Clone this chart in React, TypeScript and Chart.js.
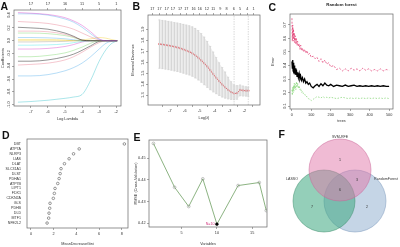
import React, { useEffect, useRef } from "react";
import { Chart, registerables } from "chart.js";

Chart.register(...registerables);

const FONT = "'Liberation Sans', Arial, Helvetica, sans-serif";
const TICK = 3.8;
const INK = "#333333";
const AXIS = "#555555";

// ---------- Panel A: LASSO coefficient paths ----------
const lassoLogLambda = [-7.76, -7, -6, -5, -4.5, -4, -3.5, -3, -2.6, -2.3, -1.94];
const lassoCoefPaths = [
  [0.44, 0.43, 0.41, 0.36, 0.31, 0.24, 0.14, 0.03, 0, 0, 0],
  [0.42, 0.42, 0.4, 0.34, 0.29, 0.21, 0.11, 0.02, 0, 0, 0],
  [0.3, 0.29, 0.27, 0.22, 0.18, 0.12, 0.06, 0.01, 0, 0, 0],
  [0.21, 0.2, 0.18, 0.12, 0.07, 0.01, 0, 0, 0, 0, 0],
  [0.15, 0.15, 0.14, 0.1, 0.06, 0.01, 0, 0, 0, 0, 0],
  [0.12, 0.12, 0.11, 0.08, 0.05, 0.01, 0, 0, 0, 0, 0],
  [0.05, 0.05, 0.045, 0.03, 0.015, 0, 0, 0, 0, 0, 0],
  [0.02, 0.02, 0.02, 0.01, 0, 0, 0, 0, 0, 0, 0],
  [-0.02, -0.02, -0.015, -0.01, 0, 0, 0, 0, 0, 0, 0],
  [-0.07, -0.07, -0.065, -0.05, -0.03, -0.01, 0, 0, 0, 0, 0],
  [-0.13, -0.13, -0.12, -0.09, -0.06, -0.02, 0, 0, 0, 0, 0],
  [-0.25, -0.25, -0.23, -0.19, -0.15, -0.1, -0.04, 0, 0, 0, 0],
  [-0.32, -0.32, -0.3, -0.25, -0.21, -0.15, -0.08, -0.01, 0, 0, 0],
  [-0.38, -0.37, -0.35, -0.3, -0.25, -0.18, -0.1, -0.03, 0, 0, 0],
  [-0.55, -0.55, -0.53, -0.47, -0.42, -0.35, -0.25, -0.13, -0.04, -0.01, 0],
  [-0.96, -0.95, -0.93, -0.9, -0.88, -0.84, -0.62, -0.32, -0.14, -0.05, 0],
  [0, 0, 0, 0, 0, 0.01, 0.03, 0.05, 0.04, 0.02, 0],
];
const lassoColors = [
  "rgba(205,11,188,0.55)", "rgba(34,151,230,0.55)", "rgba(223,83,107,0.55)", "rgba(0,0,0,0.7)",
  "rgba(223,83,107,0.55)", "rgba(97,208,79,0.6)", "rgba(34,151,230,0.55)", "rgba(245,199,16,0.6)",
  "rgba(158,158,158,0.7)", "rgba(40,226,229,0.6)", "rgba(205,11,188,0.55)", "rgba(97,208,79,0.6)",
  "rgba(0,0,0,0.7)", "rgba(223,83,107,0.55)", "rgba(34,151,230,0.55)", "rgba(40,190,200,0.65)",
  "rgba(245,199,16,0.6)",
];
const lassoXTicks = [-7, -6, -5, -4, -3, -2];
const lassoTopDf = ["17", "17", "16", "11", "5", "1"];
const lassoYTicks = [0.4, 0.2, 0, -0.2, -0.4, -0.6, -0.8, -1.0];

// ---------- Panel B: cross-validated binomial deviance ----------
const cvLogLambda = [-7.7, -7.5, -7.3, -7.1, -6.9, -6.7, -6.5, -6.3, -6.1, -5.9, -5.7, -5.5, -5.3, -5.1, -4.9, -4.7, -4.5, -4.3, -4.1, -3.9, -3.7, -3.5, -3.3, -3.1, -2.9, -2.7, -2.5, -2.3, -2.1, -1.9, -1.75];
const cvMean = [1.765, 1.761, 1.757, 1.752, 1.747, 1.741, 1.734, 1.726, 1.716, 1.706, 1.695, 1.681, 1.663, 1.641, 1.616, 1.59, 1.561, 1.527, 1.492, 1.458, 1.427, 1.397, 1.371, 1.347, 1.328, 1.314, 1.318, 1.347, 1.342, 1.34, 1.34];
const cvUpper = [1.985, 1.981, 1.977, 1.972, 1.967, 1.962, 1.957, 1.951, 1.945, 1.939, 1.932, 1.922, 1.908, 1.888, 1.86, 1.828, 1.789, 1.744, 1.692, 1.642, 1.594, 1.551, 1.51, 1.463, 1.422, 1.392, 1.386, 1.392, 1.382, 1.376, 1.372];
const cvLower = [1.545, 1.541, 1.537, 1.532, 1.527, 1.521, 1.515, 1.508, 1.5, 1.492, 1.484, 1.472, 1.457, 1.439, 1.418, 1.395, 1.371, 1.349, 1.33, 1.313, 1.297, 1.283, 1.273, 1.266, 1.261, 1.258, 1.262, 1.294, 1.292, 1.291, 1.29];
const cvTopTickPos = [-7.6, -7.2, -6.8, -6.45, -6.05, -5.7, -5.3, -4.95, -4.55, -4.2, -3.8, -3.45, -3.05, -2.7, -2.3, -1.95];
const cvTopDf = ["17", "17", "17", "17", "17", "17", "16", "16", "12", "11", "9", "8", "6", "5", "4", "1"];
const cvLambdaLines = [-2.7, -1.75];
const cvXTicks = [-7, -6, -5, -4, -3, -2];
const cvYTicks = [1.3, 1.4, 1.5, 1.6, 1.7, 1.8, 1.9];

// ---------- Panel C: random forest error vs trees ----------
const rfTrees = [1, 3, 5, 7, 9, 11, 13, 15, 18, 21, 24, 27, 30, 34, 38, 42, 46, 50, 55, 60, 66, 72, 78, 85, 92, 100, 110, 120, 130, 140, 150, 160, 170, 180, 190, 200, 215, 230, 245, 260, 275, 290, 305, 320, 335, 350, 365, 380, 395, 410, 425, 440, 455, 470, 485, 500];
const rfOOB = [0.43, 0.38, 0.44, 0.36, 0.42, 0.35, 0.4, 0.34, 0.38, 0.33, 0.37, 0.32, 0.35, 0.31, 0.34, 0.3, 0.32, 0.29, 0.31, 0.28, 0.3, 0.27, 0.28, 0.26, 0.27, 0.245, 0.235, 0.25, 0.26, 0.245, 0.265, 0.25, 0.27, 0.255, 0.25, 0.26, 0.245, 0.255, 0.25, 0.245, 0.255, 0.245, 0.25, 0.255, 0.245, 0.25, 0.245, 0.25, 0.245, 0.25, 0.245, 0.25, 0.245, 0.25, 0.245, 0.245];
const rfClass1 = [0.75, 0.58, 0.7, 0.6, 0.67, 0.58, 0.64, 0.57, 0.62, 0.56, 0.6, 0.55, 0.58, 0.54, 0.56, 0.52, 0.55, 0.51, 0.53, 0.5, 0.52, 0.49, 0.51, 0.48, 0.49, 0.46, 0.47, 0.45, 0.46, 0.43, 0.45, 0.42, 0.44, 0.41, 0.42, 0.39, 0.4, 0.37, 0.38, 0.36, 0.375, 0.36, 0.38, 0.365, 0.375, 0.36, 0.38, 0.365, 0.375, 0.36, 0.37, 0.36, 0.375, 0.36, 0.37, 0.365];
const rfClass2 = [0.22, 0.18, 0.24, 0.2, 0.25, 0.21, 0.27, 0.23, 0.26, 0.22, 0.28, 0.24, 0.27, 0.23, 0.25, 0.22, 0.23, 0.2, 0.21, 0.19, 0.19, 0.17, 0.17, 0.155, 0.15, 0.14, 0.15, 0.16, 0.17, 0.165, 0.16, 0.17, 0.16, 0.165, 0.16, 0.165, 0.16, 0.155, 0.16, 0.165, 0.16, 0.155, 0.16, 0.155, 0.16, 0.155, 0.16, 0.155, 0.16, 0.155, 0.16, 0.155, 0.16, 0.155, 0.16, 0.155];
const rfXTicks = [0, 100, 200, 300, 400, 500];
const rfYTicks = [0.1, 0.2, 0.3, 0.4, 0.5, 0.6, 0.7];

// ---------- Panel D: MeanDecreaseGini ----------
const giniGenes = ["DBT", "ATP7A", "NLRP3", "LIAS", "DLAT", "SLC31A1", "DLST", "PDHA1", "ATP7B", "LIPT1", "FDX1", "CDKN2A", "GLS", "PDHB", "DLD", "MTF1", "NFE2L2"];
const giniValues = [8.23, 4.25, 3.75, 3.36, 2.95, 2.65, 2.57, 2.48, 2.36, 2.12, 2.06, 1.97, 1.68, 1.65, 1.59, 1.56, 1.42];
const giniXTicks = [0, 2, 4, 6, 8];

// ---------- Panel E: SVM-RFE RMSE ----------
const svmVars = [1, 4, 6, 8, 10, 13, 16, 17];
const svmRmse = [0.4569, 0.4366, 0.4277, 0.4405, 0.4195, 0.4374, 0.4388, 0.4258];
const svmXTicks = [5, 10, 15];
const svmYTicks = [0.42, 0.43, 0.44, 0.45];

// ---------- Panel F: Venn ----------
const vennSets = ["SVM-RFE", "LASSO", "RandomForest"];
const vennCx = [60, 44, 75];
const vennCy = [40, 71, 71];
const vennRadius = 31;
const vennFill = ["rgba(226,120,170,0.5)", "rgba(60,168,128,0.55)", "rgba(150,178,210,0.55)"];
const vennStroke = ["rgba(200,100,150,0.8)", "rgba(60,140,105,0.8)", "rgba(120,150,185,0.8)"];
const vennSetLabelX = [60, 12, 106];
const vennSetLabelY = [7, 49, 49];
const vennCounts = ["1", "3", "6", "7", "2"];
const vennCountX = [60, 77, 60, 32, 87];
const vennCountY = [30, 50, 60, 77, 77];

// ---------- helpers ----------
function axis(o: any) {
  const vertical = o.position === "left";
  return {
    type: "linear",
    position: o.position,
    min: o.min,
    max: o.max,
    reverse: !!o.reverse,
    display: true,
    afterBuildTicks: (s: any) => {
      s.ticks = o.ticks.map((v: number) => ({ value: v }));
    },
    afterFit: (s: any) => {
      if (vertical) s.width = o.size;
      else s.height = o.size;
    },
    ticks: {
      display: o.showLabels !== false,
      autoSkip: false,
      maxRotation: 0,
      minRotation: 0,
      padding: o.tickPad ?? 1.5,
      font: { family: FONT, size: o.fontSize ?? TICK },
      color: INK,
      callback: (v: number, i: number) => (o.label ? o.label(v, i) : String(v)),
    },
    grid: {
      display: o.drawTicks !== false,
      drawOnChartArea: false,
      drawTicks: true,
      tickLength: 2,
      color: AXIS,
      lineWidth: 0.5,
    },
    border: { display: false },
    title: o.title
      ? {
          display: true,
          text: o.title,
          font: { family: FONT, size: TICK },
          color: INK,
          padding: { top: o.titlePad ?? 0, bottom: o.titlePad ?? 0 },
        }
      : { display: false },
  };
}

const boxPlugin = {
  id: "rbox",
  afterDatasetsDraw(chart: any) {
    const { left, top, right, bottom } = chart.chartArea;
    const ctx = chart.ctx;
    ctx.save();
    ctx.strokeStyle = "#666";
    ctx.lineWidth = 0.7;
    ctx.strokeRect(left, top, right - left, bottom - top);
    ctx.restore();
  },
};

function rotYPlugin(scaleId: string, values: number[], fmt: (v: number) => string) {
  return {
    id: "rotY",
    afterDraw(chart: any) {
      const s = chart.scales[scaleId];
      const ctx = chart.ctx;
      ctx.save();
      ctx.fillStyle = INK;
      ctx.font = `${TICK}px ${FONT}`;
      ctx.textAlign = "center";
      ctx.textBaseline = "bottom";
      values.forEach((v) => {
        const y = s.getPixelForValue(v);
        ctx.save();
        ctx.translate(s.right - 3, y);
        ctx.rotate(-Math.PI / 2);
        ctx.fillText(fmt(v), 0, 0);
        ctx.restore();
      });
      ctx.restore();
    },
  };
}

function notesPlugin(items: any[]) {
  return {
    id: "notes",
    afterDatasetsDraw(chart: any) {
      const ctx = chart.ctx;
      const a = chart.chartArea;
      items.forEach((n) => {
        let px: number, py: number;
        if (n.mode === "data") {
          px = chart.scales.x.getPixelForValue(n.x) + (n.dx || 0);
          py = chart.scales.y.getPixelForValue(n.y) + (n.dy || 0);
        } else {
          px = (a.left + a.right) / 2 + (n.dx || 0);
          py = a.top + (n.dy || 0);
        }
        ctx.save();
        ctx.font = `${n.bold ? "bold " : ""}${n.size}px ${FONT}`;
        ctx.fillStyle = n.color || INK;
        ctx.textAlign = n.align || "center";
        ctx.textBaseline = "middle";
        ctx.fillText(n.text, px, py);
        ctx.restore();
      });
    },
  };
}

function baseOptions(padding: any, scales: any) {
  return {
    responsive: false,
    animation: false,
    events: [],
    layout: { padding },
    plugins: { legend: { display: false }, tooltip: { enabled: false }, title: { display: false } },
    scales,
  };
}

// ---------- chart configs ----------
function chartA(): any {
  const xMin = -7.99, xMax = -1.72;
  return {
    type: "line",
    data: {
      datasets: lassoCoefPaths.map((p, i) => ({
        xAxisID: "x",
        data: p.map((v, j) => ({ x: lassoLogLambda[j], y: v })),
        borderColor: lassoColors[i],
        borderWidth: 0.6,
        pointRadius: 0,
        cubicInterpolationMode: "monotone",
        fill: false,
      })),
    },
    options: baseOptions({ left: 0, top: 2, right: 279, bottom: 126 }, {
      x: axis({ position: "bottom", min: xMin, max: xMax, ticks: lassoXTicks, size: 15, title: "Log Lambda" }),
      xTop: axis({ position: "top", min: xMin, max: xMax, ticks: lassoXTicks, label: (_v: number, i: number) => lassoTopDf[i], size: 8 }),
      y: axis({ position: "left", min: -1.02, max: 0.48, ticks: lassoYTicks, size: 14, title: "Coefficients", titlePad: 1, showLabels: false }),
    }),
    plugins: [boxPlugin, rotYPlugin("y", lassoYTicks, (v) => v.toFixed(1))],
  };
}

function chartB(): any {
  const xMin = -7.84, xMax = -1.59, yMin = 1.21, yMax = 2.03;
  const caps = [
    ...cvLogLambda.map((L, i) => ({ x: L, y: cvUpper[i] })),
    ...cvLogLambda.map((L, i) => ({ x: L, y: cvLower[i] })),
  ];
  return {
    type: "line",
    data: {
      datasets: [
        {
          xAxisID: "x",
          data: cvLogLambda.map((L, i) => ({ x: L, y: cvUpper[i] })),
          borderWidth: 0,
          borderColor: "rgba(0,0,0,0)",
          pointRadius: 0,
          fill: "+1",
          backgroundColor: "rgba(215,215,215,0.45)",
        },
        {
          xAxisID: "x",
          data: cvLogLambda.map((L, i) => ({ x: L, y: cvLower[i] })),
          borderWidth: 0,
          borderColor: "rgba(0,0,0,0)",
          pointRadius: 0,
          fill: false,
        },
        {
          type: "bar",
          xAxisID: "x",
          data: cvLogLambda.map((L, i) => ({ x: L, y: [cvLower[i], cvUpper[i]] })),
          backgroundColor: "#d4d4d4",
          barThickness: 0.5,
          grouped: false,
        },
        {
          xAxisID: "x",
          data: caps,
          showLine: false,
          pointStyle: "line",
          pointRadius: 1.1,
          pointBorderColor: "#c4c4c4",
          pointBorderWidth: 0.5,
        },
        ...cvLambdaLines.map((L) => ({
          xAxisID: "x",
          data: [{ x: L, y: yMin }, { x: L, y: yMax }],
          borderColor: "#c8c8c8",
          borderWidth: 0.7,
          borderDash: [1.5, 1],
          pointRadius: 0,
        })),
        {
          xAxisID: "x",
          data: cvLogLambda.map((L, i) => ({ x: L, y: cvMean[i] })),
          borderColor: "#e0202a",
          borderWidth: 1,
          pointRadius: 1.15,
          pointBackgroundColor: "#e0202a",
          pointBorderWidth: 0,
        },
      ],
    },
    options: baseOptions({ left: 131, top: 7, right: 140, bottom: 127 }, {
      x: axis({ position: "bottom", min: xMin, max: xMax, ticks: cvXTicks, size: 15, title: "Log(λ)" }),
      xTop: axis({ position: "top", min: xMin, max: xMax, ticks: cvTopTickPos, label: (_v: number, i: number) => cvTopDf[i], size: 8 }),
      y: axis({ position: "left", min: yMin, max: yMax, ticks: cvYTicks, size: 17, title: "Binomial Deviance", titlePad: 0, showLabels: false }),
    }),
    plugins: [boxPlugin, rotYPlugin("y", cvYTicks, (v) => v.toFixed(1))],
  };
}

function chartC(): any {
  const pts = (arr: number[]) => rfTrees.map((t, i) => ({ x: t, y: arr[i] }));
  return {
    type: "line",
    data: {
      datasets: [
        { data: pts(rfClass1), borderColor: "#e0306a", borderWidth: 0.7, borderDash: [2, 1.5], pointRadius: 0 },
        { data: pts(rfClass2), borderColor: "#7ed36e", borderWidth: 0.7, borderDash: [1.5, 1.5], pointRadius: 0 },
        { data: pts(rfOOB), borderColor: "#000000", borderWidth: 1.3, pointRadius: 0 },
      ],
    },
    options: baseOptions({ left: 271, top: 14, right: 7, bottom: 124 }, {
      x: axis({ position: "bottom", min: -9, max: 520, ticks: rfXTicks, size: 14, title: "trees" }),
      y: axis({ position: "left", min: 0.078, max: 0.781, ticks: rfYTicks, size: 19, title: "Error", titlePad: 0, showLabels: false }),
    }),
    plugins: [
      boxPlugin,
      rotYPlugin("y", rfYTicks, (v) => v.toFixed(1)),
      notesPlugin([{ mode: "top", text: "Random forest", dy: -9, size: 4.3, bold: true, color: "#222" }]),
    ],
  };
}

function chartD(): any {
  const rows = giniGenes.map((_g, i) => i + 1);
  return {
    type: "scatter",
    data: {
      datasets: [
        {
          data: giniValues.map((v, i) => ({ x: v, y: i + 1 })),
          pointRadius: 1.3,
          pointBorderWidth: 0.6,
          pointBorderColor: "#555",
          pointBackgroundColor: "rgba(0,0,0,0)",
        },
      ],
    },
    options: baseOptions({ left: 5, top: 139, right: 272, bottom: 1 }, {
      x: axis({ position: "bottom", min: -0.35, max: 8.55, ticks: giniXTicks, size: 18, title: "MeanDecreaseGini" }),
      y: axis({
        position: "left", min: 0, max: 18, reverse: true, ticks: rows, size: 22,
        label: (v: number) => giniGenes[v - 1], drawTicks: false, tickPad: 4, fontSize: 3.6,
      }),
    }),
    plugins: [boxPlugin],
  };
}

function chartE(): any {
  let best = 0;
  svmRmse.forEach((v, i) => { if (v < svmRmse[best]) best = i; });
  return {
    type: "line",
    data: {
      datasets: [
        {
          data: svmVars.map((n, i) => ({ x: n, y: svmRmse[i] })),
          borderColor: "#6f9f62",
          borderWidth: 0.8,
          pointRadius: 1.4,
          pointBorderWidth: 0.5,
          pointBorderColor: svmVars.map((_n, i) => (i === best ? "#000" : "#8a8a8a")),
          pointBackgroundColor: svmVars.map((_n, i) => (i === best ? "#000" : "rgba(255,255,255,0)")),
        },
      ],
    },
    options: baseOptions({ left: 133, top: 140, right: 133, bottom: 1 }, {
      x: axis({ position: "bottom", min: 0.37, max: 17.1, ticks: svmXTicks, size: 19, title: "Variables" }),
      y: axis({ position: "left", min: 0.4182, max: 0.4585, ticks: svmYTicks, size: 16, title: "RMSE (Cross-Validation)", titlePad: 1, label: (v: number) => v.toFixed(2) }),
    }),
    plugins: [
      boxPlugin,
      notesPlugin([{ mode: "data", x: svmVars[best], y: svmRmse[best], dx: -2.5, text: "N=" + svmVars[best], align: "right", size: 3.6, color: "#d0307a" }]),
    ],
  };
}

function chartF(): any {
  const rad = (ctx: any) => {
    const s = ctx.chart.scales.x;
    return Math.abs(s.getPixelForValue(vennRadius) - s.getPixelForValue(0));
  };
  const notes = [
    ...vennSets.map((s, i) => ({ mode: "data", x: vennSetLabelX[i], y: vennSetLabelY[i], text: s, size: 3.6, color: "#333" })),
    ...vennCounts.map((c, i) => ({ mode: "data", x: vennCountX[i], y: vennCountY[i], text: c, size: 3.6, color: "#333" })),
  ];
  return {
    type: "scatter",
    data: {
      datasets: vennSets.map((s, i) => ({
        label: s,
        order: i,
        data: [{ x: vennCx[i], y: vennCy[i] }],
        pointRadius: rad,
        pointBackgroundColor: vennFill[i],
        pointBorderColor: vennStroke[i],
        pointBorderWidth: 0.6,
        clip: false,
      })),
    },
    options: baseOptions({ left: 280, top: 130, right: 0, bottom: 0 }, {
      x: { type: "linear", display: false, min: 0, max: 120 },
      y: { type: "linear", display: false, min: 0, max: 117, reverse: true },
    }),
    plugins: [notesPlugin(notes)],
  };
}

function Panel({ make }: { make: () => any }) {
  const ref = useRef<HTMLCanvasElement>(null);
  useEffect(() => {
    const chart = new Chart(ref.current as HTMLCanvasElement, make());
    return () => chart.destroy();
  }, [make]);
  return (
    <canvas
      ref={ref}
      width={400}
      height={247}
      style={{ position: "absolute", left: 0, top: 0, width: 400, height: 247 }}
    />
  );
}

const panelLetters = [
  { t: "A", x: 0.5, y: 0.5 },
  { t: "B", x: 132.5, y: 0.5 },
  { t: "C", x: 268.5, y: 2 },
  { t: "D", x: 2, y: 130 },
  { t: "E", x: 133.5, y: 131.5 },
  { t: "F", x: 278.5, y: 129 },
];

export default function App() {
  return (
    <div style={{ position: "absolute", left: 0, top: 0, width: 400, height: 247, background: "#fff", overflow: "hidden" }}>
      <Panel make={chartA} />
      <Panel make={chartB} />
      <Panel make={chartC} />
      <Panel make={chartD} />
      <Panel make={chartE} />
      <Panel make={chartF} />
      {panelLetters.map((p) => (
        <span
          key={p.t}
          style={{
            position: "absolute", left: p.x, top: p.y, fontFamily: FONT, fontWeight: "bold",
            fontSize: 10.5, lineHeight: "10px", color: "#111",
          }}
        >
          {p.t}
        </span>
      ))}
    </div>
  );
}
